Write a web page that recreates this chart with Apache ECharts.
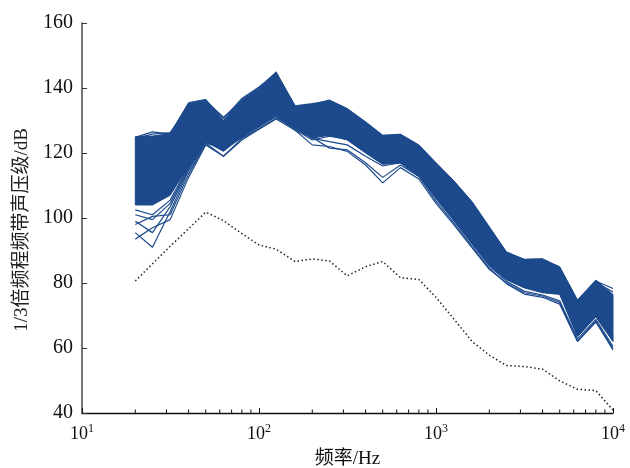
<!DOCTYPE html>
<html>
<head>
<meta charset="utf-8">
<script src="https://cdn.jsdelivr.net/npm/echarts@6/dist/echarts.min.js"></script>
<style>
  html, body { margin: 0; padding: 0; background: #fff; }
  #chart { width: 630px; height: 468px; }
</style>
</head>
<body>
<div id="chart"></div>
<script>
// 1/3-octave band centre frequencies (Hz)
const freqs = [20, 25, 31.5, 40, 50, 63, 80, 100, 125, 160, 200, 250, 315, 400, 500,
               630, 800, 1000, 1250, 1600, 2000, 2500, 3150, 4000, 5000, 6300, 8000, 10000];

// Dense core of the measured spectra: upper and lower edge (dB)
const bandTop = [125, 125.2, 126, 135.5, 136.5, 130, 136.5, 140, 145, 134.3, 135, 136.3, 133.7, 129.6,
                 125.5, 125.8, 122.5, 117, 111.7, 105, 97.3, 89.6, 87.3, 87.4, 85, 74.8, 80.9, 76.5];
const bandBottom = [104, 104, 107, 116, 123.5, 120.5, 125, 128.5, 132, 127.5, 125, 125.5, 124, 120,
                    116.5, 117, 113, 106.5, 100, 92, 85.5, 81, 78.5, 77, 76.5, 63.5, 69.6, 62];

// Individual spectra that stand out along the edges of the band (dB)
const topA = [124.8, 126.5, 125.8, 135, 136.3, 130.5, 136.8, 140.3, 144.6, 134.5, 135.2, 136, 133.5, 129.3,
              125.2, 125.6, 122.2, 116.8, 111.4, 104.6, 97, 89.2, 87.2, 87.4, 84.7, 74.5, 80.6, 78.3];
const topB = [124.5, 125.8, 126.3, 134.2, 136, 131, 136, 139.5, 143.8, 134, 134.5, 135.5, 133, 128.8,
              124.8, 125.3, 121.8, 116.3, 110.8, 104, 96.5, 88.8, 86.8, 86.8, 84.3, 74.2, 80.2, 77.2];
const lowA = [95.5, 91, 102, 114.5, 123, 121.5, 125, 128, 131.5, 127.8, 124.5, 125.8, 124.5, 120.5,
              117, 117.3, 113, 106.5, 100, 92.5, 86, 81.5, 79, 77.5, 77, 64, 70, 62.5];
const lowB = [93.5, 97, 99.5, 112.5, 122.5, 119, 124.5, 127.5, 130.8, 128, 125.5, 126, 124.8, 120.8,
              117.5, 117.8, 113.5, 107, 100.5, 93, 86.5, 82, 79.5, 78, 77.5, 64.5, 70.5, 63];
const lowC = [99, 95.5, 103.5, 115, 123.5, 121, 124.8, 128.2, 131.2, 127.2, 124, 125.2, 124.2, 120.2,
              116.8, 117, 112.8, 106.2, 99.8, 92.2, 85.8, 81.2, 78.8, 77.2, 76.8, 63.8, 69.8, 62.2];
const lowD = [101, 99.5, 104.5, 115.5, 124, 122, 125.5, 128.8, 132, 128.2, 125.2, 126.2, 125, 121,
              117.8, 118, 114, 107.5, 101, 93.5, 87, 82.5, 80, 78.5, 78, 65, 71, 63.5];
const lowE = [102.5, 101, 105.5, 116, 123.8, 122.5, 126, 129, 132.5, 128.5, 125.8, 126.5, 125.5, 121.5,
              118.3, 118.5, 114.5, 108, 101.5, 94, 87.5, 83, 80.5, 79, 78.5, 65.5, 71.5, 64];
const lowF = [98, 100.5, 101, 113.5, 123, 119, 124, 127.3, 130.5, 127, 124.8, 125.5, 124.3, 120.3,
              117.2, 117.5, 113.2, 106.8, 100.2, 92.8, 86.2, 81.8, 79.2, 77.8, 77.2, 64.2, 70.2, 62.8];
const midA = [106, 105, 108, 117, 124, 122, 125.5, 128.5, 131.5, 127, 122.5, 122, 120.5, 116.3,
              110.8, 115.5, 112, 104.5, 98.2, 90.8, 84.2, 80, 77, 76, 74, 62.2, 68.3, 59.8];
const midB = [107, 106, 108.5, 117.5, 124.5, 123, 126, 129, 132.2, 128, 124.8, 121.5, 121, 117,
              112.5, 116.3, 112.8, 105.2, 98.8, 91.3, 84.6, 79.8, 76.6, 75.6, 73.5, 62, 68, 59.4];
const midC = [108, 107, 109, 118, 125, 123.5, 126.5, 129.5, 132.5, 128.5, 124.5, 123.5, 122.5, 119,
              116, 117, 113.5, 106, 99.5, 92, 85.3, 80.5, 77.5, 76.3, 74.5, 62.8, 68.8, 60.5];

// Background noise spectrum (dB)
const background = [80.6, 85.9, 91.3, 96.7, 101.8, 99.2, 95.2, 91.7, 90.4, 86.6, 87.4, 86.8, 82.2, 85,
                    86.6, 81.6, 81.1, 75.6, 69.2, 62, 57.8, 54.6, 54.3, 53.5, 49.9, 47.3, 46.9, 40.9];

// Minor tick positions on the log frequency axis
const minorTicks = [20, 30, 40, 50, 60, 70, 80, 90, 200, 300, 400, 500, 600, 700, 800, 900,
                    2000, 3000, 4000, 5000, 6000, 7000, 8000, 9000];

const yMin = 40, yMax = 160;
const blue = '#1c4a8c';
const serif = "'Liberation Serif', 'Times New Roman', serif";
const mixed = "'Liberation Serif', 'Noto Sans CJK SC', serif";

const edgeLines = [topA, topB, lowA, lowB, lowC, lowD, lowE, lowF, midA, midB, midC];

const pairs = arr => freqs.map((f, i) => [f, arr[i]]);

const series = [];

// Filled core of the spectra
series.push({
  type: 'custom',
  name: 'band',
  silent: true,
  data: freqs.map((f, i) => [f, bandTop[i], bandBottom[i]]),
  encode: { x: 0, y: [1, 2] },
  renderItem: function (params, api) {
    if (params.dataIndex !== 0) return null;
    const pts = [];
    for (let i = 0; i < freqs.length; i++) pts.push(api.coord([freqs[i], bandTop[i]]));
    for (let i = freqs.length - 1; i >= 0; i--) pts.push(api.coord([freqs[i], bandBottom[i]]));
    return {
      type: 'polygon',
      shape: { points: pts },
      style: { fill: blue, stroke: blue, lineWidth: 1, lineJoin: 'round' }
    };
  },
  z: 2
});

edgeLines.forEach(arr => {
  series.push({
    type: 'line',
    data: pairs(arr),
    symbol: 'none',
    silent: true,
    lineStyle: { color: blue, width: 1.2 },
    z: 3
  });
});

series.push({
  type: 'line',
  name: 'background',
  data: pairs(background),
  symbol: 'none',
  silent: true,
  lineStyle: { color: '#222', width: 1.5, type: [1.5, 2.5] },
  z: 4
});

// Inward minor ticks on the frequency axis
series.push({
  type: 'custom',
  silent: true,
  clip: false,
  data: minorTicks.map(f => [f, yMin]),
  encode: { x: 0, y: 1 },
  renderItem: function (params, api) {
    const p = api.coord([api.value(0), yMin]);
    return {
      type: 'line',
      shape: { x1: p[0], y1: p[1], x2: p[0], y2: p[1] - 3.5 },
      style: { stroke: '#111', lineWidth: 1 }
    };
  },
  z: 5
});

const chart = echarts.init(document.getElementById('chart'), null, { renderer: 'canvas' });
chart.setOption({
  animation: false,
  backgroundColor: '#fff',
  grid: { left: 82, right: 17, top: 23, bottom: 55, containLabel: false, outerBoundsMode: 'none' },
  xAxis: {
    type: 'log',
    logBase: 10,
    min: 10,
    max: 10000,
    axisLine: { show: true, onZero: false, lineStyle: { color: '#111', width: 1.3 } },
    axisTick: { show: true, inside: true, length: 5, lineStyle: { color: '#111', width: 1 } },
    splitLine: { show: false },
    minorTick: { show: false },
    axisLabel: {
      margin: 10,
      color: '#111',
      fontSize: 18,
      fontFamily: serif,
      formatter: v => '{b|10}{s|' + Math.round(Math.log10(v)) + '}',
      rich: {
        b: { fontFamily: serif, fontSize: 18, lineHeight: 22, color: '#111' },
        s: { fontFamily: serif, fontSize: 12, lineHeight: 12, verticalAlign: 'top', color: '#111' }
      }
    },
    name: '频率/Hz',
    nameLocation: 'middle',
    nameGap: 37,
    nameTextStyle: { fontFamily: mixed, fontSize: 19, color: '#111' }
  },
  yAxis: {
    type: 'value',
    min: yMin,
    max: yMax,
    interval: 20,
    axisLine: { show: true, onZero: false, lineStyle: { color: '#4a4a4a', width: 1.5 } },
    axisTick: { show: true, inside: true, length: 5, lineStyle: { color: '#333', width: 1 } },
    splitLine: { show: false },
    axisLabel: { margin: 9, fontFamily: serif, fontSize: 20, color: '#111' },
    name: '1/3倍频程频带声压级/dB',
    nameLocation: 'middle',
    nameRotate: 90,
    nameGap: 50,
    nameTextStyle: { fontFamily: mixed, fontSize: 19, color: '#222', padding: [0, 24, 0, 0] }
  },
  series: series
});
</script>
</body>
</html>
